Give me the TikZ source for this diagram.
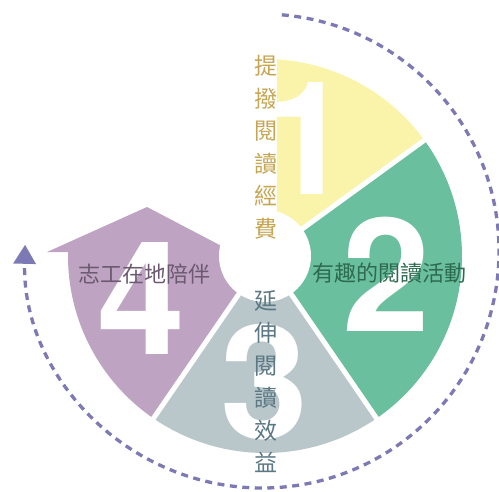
\documentclass[tikz,border=0pt]{standalone}
\usepackage{fontspec}
\newfontfamily\cjk{Noto Sans CJK TC}
\newfontfamily\numfont{TeX Gyre Heros}
\usetikzlibrary{arrows.meta}

\definecolor{yel}{HTML}{FAF4AA}
\definecolor{grn}{HTML}{6ABF9F}
\definecolor{gry}{HTML}{B9C7CB}
\definecolor{pur}{HTML}{BEA4C2}
\definecolor{dsh}{HTML}{7D79B4}
\definecolor{yeltext}{HTML}{C6A652}
\definecolor{grntext}{HTML}{2E6A4F}
\definecolor{purtext}{HTML}{6B5A70}
\definecolor{grytext}{HTML}{5C7884}

\begin{document}
\begin{tikzpicture}[x=1pt,y=1pt,
    num/.style={text=white,inner sep=0pt,
      font=\numfont\bfseries\fontsize{158}{158}\selectfont},
    vtext/.style={inner sep=0pt,align=center,
      font=\cjk\fontsize{23}{32.5}\selectfont},
    htext/.style={inner sep=0pt,font=\cjk\fontsize{22}{26}\selectfont},
    gap/.style={white,line width=5pt}]

  \useasboundingbox (-265,-235) rectangle (234,256);

  % the sectors
  \begin{scope}
    \clip (12,0) rectangle (200,200);
    \fill[yel] (0,0) -- (36:197pt) arc[start angle=36,end angle=90,radius=197pt] -- cycle;
  \end{scope}
  \fill[grn] (0,0) -- (-55.5:197pt) arc[start angle=-55.5,end angle=36,radius=197pt] -- cycle;
  \fill[gry] (0,0) -- (235.5:197pt) arc[start angle=235.5,end angle=304.5,radius=197pt] -- cycle;
  \fill[pur] (0,0) -- (235.5:197pt) arc[start angle=235.5,end angle=178.84,radius=197pt]
    -- (-218,4) -- (-118,49) -- (-32,4) -- (0,4) -- cycle;
  \foreach \a in {36,-55.5,235.5}
    \draw[gap] (0,0) -- (\a:200pt);
  \fill[white] (0,0) circle (46pt);

  % the circle arrow
  \draw[dsh,line width=3.3pt,dash pattern=on 7pt off 5.5pt,
    -{Triangle[width=22pt,length=19pt]}]
    (-3,5) ++(85.2:237pt) arc[start angle=85.2,end angle=-181.5,radius=237pt];

  % the numbers
  \node[num] (one) at (42,117.5) {1};
  \node[num] (two) at (121.5,-18.5) {2};
  \node[num] (three) at (-1,-126) {3};
  \node[num] (four) at (-124,-42.5) {4};

  % the texts
  \node[vtext,text=yeltext] (fund) at (1,108.5) {提\\撥\\閱\\讀\\經\\費};
  \node[htext,text=grntext] (activity) at (125,-17.5) {有趣的閱讀活動};
  \node[vtext,text=grytext] (effect) at (1,-125.5) {延\\伸\\閱\\讀\\效\\益};
  \node[htext,text=purtext] (volunteer) at (-120,-18.5) {志工在地陪伴};

\end{tikzpicture}
\end{document}
